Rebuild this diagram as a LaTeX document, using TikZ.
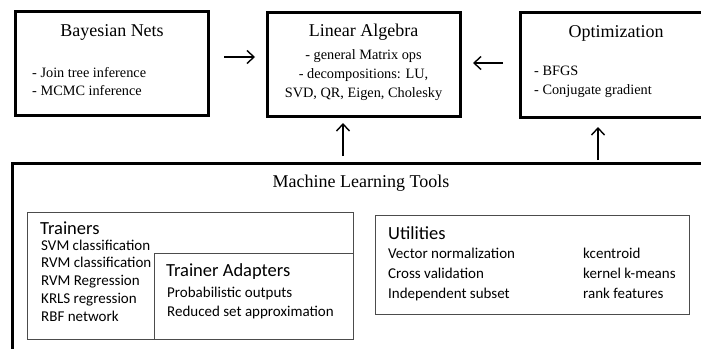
\documentclass[tikz,border=0pt]{standalone}
\usepackage{fontspec}
\setmainfont{Liberation Serif}
\newfontfamily\calib{Carlito}
\usetikzlibrary{arrows.meta,positioning}

\tikzset{
  bigbox/.style={draw, line width=3pt, inner sep=0pt, outer sep=0pt},
  subbox/.style={draw=black!70, line width=1pt, inner sep=0pt, outer sep=0pt},
  ttl/.style={font=\fontsize{18}{20}\selectfont, inner sep=0pt},
  body/.style={font=\fontsize{14.3}{18.5}\selectfont, inner sep=0pt, align=left, anchor=west},
  sttl/.style={font=\calib\fontsize{18.5}{20}\selectfont, inner sep=0pt, anchor=west},
  sbody/.style={font=\calib\fontsize{15}{17.8}\selectfont, inner sep=0pt, anchor=north west, align=left},
  arr/.style={-{Straight Barb[length=7pt,width=13pt]}, line width=1.4pt}
}

\begin{document}
\begin{tikzpicture}[x=1pt,y=-1pt]
\useasboundingbox (0,0) rectangle (701,348);
\clip (0,0) rectangle (701,348);

% top row of modules
\node[bigbox, minimum width=193pt, minimum height=104pt] (bn) at (111.5,63) {};
\node[bigbox, minimum width=193pt, minimum height=104pt] (la) at (363.5,64) {};
\node[bigbox, minimum width=200pt, minimum height=105pt] (opt) at (620,64.5) {};

\node[ttl] (bnT) at (112,32) {Bayesian Nets};
\node[body] (bnL) at (32,81.5) {- Join tree inference\\- MCMC inference};

\node[ttl] (laT) at (363.5,32) {Linear Algebra};
\node[font=\fontsize{14.3}{18.8}\selectfont, inner sep=0pt, align=center] (laL) at (363.5,75)
  {- general Matrix ops\\- decompositions: LU,\\SVD, QR, Eigen, Cholesky};

\node[ttl] (optT) at (616,33) {Optimization};
\node[body] (optL) at (534,82) {- BFGS\\- Conjugate gradient};

% machine learning tools container
\node[bigbox, minimum width=708pt, minimum height=207pt] (ml) at (366,266.5) {};
\node[ttl] (mlT) at (361,183) {Machine Learning Tools};

% trainers and adapters
\node[subbox, minimum width=326pt, minimum height=127pt] (tr) at (190,275.5) {};
\node[subbox, fill=white, minimum width=199pt, minimum height=86pt] (ad) at (253.5,296) {};
\node[sttl] (trT) at (40,228) {Trainers};
\node[sbody] (trL) at (41,239.5) {SVM classification\\RVM classification\\RVM Regression\\KRLS regression\\RBF network};
\node[sttl] (adT) at (166,272) {Trainer Adapters};
\node[sbody, font=\calib\fontsize{15}{19}\selectfont] (adL) at (167,287) {Probabilistic outputs\\Reduced set approximation};

% utilities
\node[subbox, minimum width=314pt, minimum height=99pt] (ut) at (532,264.5) {};
\node[sttl] (utT) at (388,233) {Utilities};
\node[sbody, font=\calib\fontsize{15}{20}\selectfont] (utL) at (388,248) {Vector normalization\\Cross validation\\Independent subset};
\node[sbody, font=\calib\fontsize{15}{20}\selectfont] (utR) at (583,248) {kcentroid\\kernel k-means\\rank features};

% dependencies
\draw[arr, shorten <=16pt, shorten >=12pt] ([yshift=6pt]bn.east) -- ([yshift=7pt]la.west);
\draw[arr, shorten <=17pt, shorten >=13pt] ([yshift=1.5pt]opt.west) -- ([yshift=1pt]la.east);
\draw[arr, shorten <=7pt, shorten >=7pt] ([xshift=-20.5pt]la.south |- ml.north) -- ([xshift=-20.5pt]la.south);
\draw[arr, shorten <=3pt, shorten >=10pt] ([xshift=-22pt]opt.south |- ml.north) -- ([xshift=-22pt]opt.south);
\end{tikzpicture}
\end{document}
